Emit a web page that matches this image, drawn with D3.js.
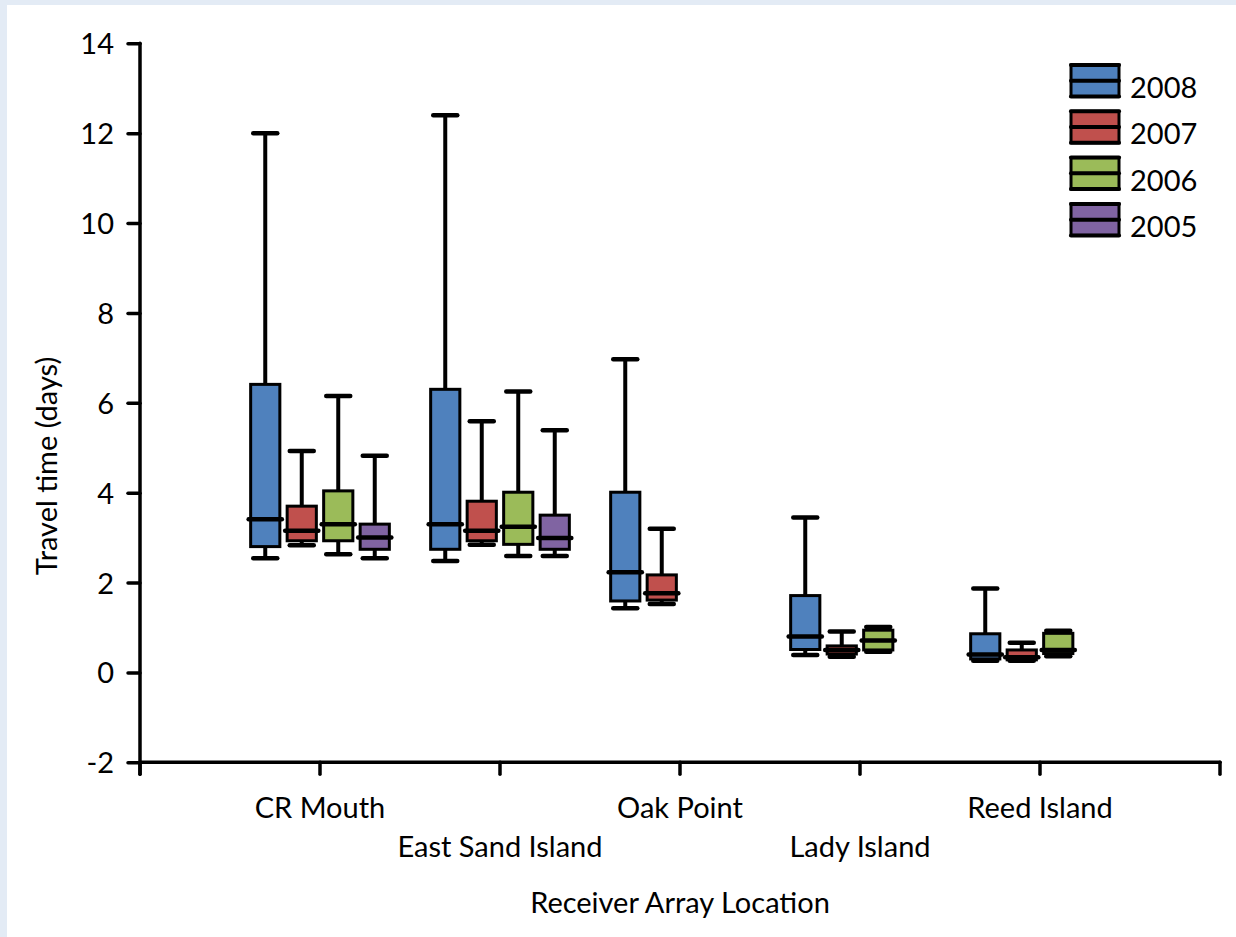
<!DOCTYPE html>
<html>
<head>
<meta charset="utf-8">
<script src="https://cdn.jsdelivr.net/npm/d3@7"></script>
<style>
  html, body { margin: 0; padding: 0; background: #e3ebf5; }
  text { font-family: Lato, "Open Sans", sans-serif; fill: #000; }
</style>
</head>
<body>
<div id="chart"></div>
<script>
// Categories and series
var locations = ["CR Mouth", "East Sand Island", "Oak Point", "Lady Island", "Reed Island"];
var years = ["2008", "2007", "2006", "2005"];
var colors = ["#4f81bd", "#c0504d", "#9bbb59", "#8064a2"];
var yTicks = [-2, 0, 2, 4, 6, 8, 10, 12, 14];

// [location, year, min, q1, median, q3, max]
var boxes = [
  ["CR Mouth", "2008", 2.54, 2.80, 3.41, 6.41, 12.0],
  ["CR Mouth", "2007", 2.83, 2.93, 3.15, 3.70, 4.93],
  ["CR Mouth", "2006", 2.63, 2.93, 3.30, 4.04, 6.15],
  ["CR Mouth", "2005", 2.54, 2.74, 3.00, 3.30, 4.82],
  ["East Sand Island", "2008", 2.48, 2.74, 3.30, 6.30, 12.40],
  ["East Sand Island", "2007", 2.84, 2.93, 3.15, 3.81, 5.59],
  ["East Sand Island", "2006", 2.59, 2.85, 3.24, 4.01, 6.25],
  ["East Sand Island", "2005", 2.59, 2.74, 2.99, 3.50, 5.39],
  ["Oak Point", "2008", 1.43, 1.59, 2.23, 4.01, 6.97],
  ["Oak Point", "2007", 1.52, 1.61, 1.76, 2.17, 3.20],
  ["Lady Island", "2008", 0.39, 0.51, 0.80, 1.71, 3.45],
  ["Lady Island", "2007", 0.35, 0.41, 0.50, 0.59, 0.91],
  ["Lady Island", "2006", 0.46, 0.50, 0.71, 0.94, 1.01],
  ["Reed Island", "2008", 0.26, 0.30, 0.40, 0.86, 1.87],
  ["Reed Island", "2007", 0.26, 0.28, 0.34, 0.50, 0.66],
  ["Reed Island", "2006", 0.36, 0.42, 0.50, 0.87, 0.93]
];

function redraw() {
  var canvas_w = 1236;
  var canvas_h = 937;
  var fontSize = "29px";

  var svg = d3.select("#chart").append("svg")
    .attr("width", canvas_w)
    .attr("height", canvas_h)
    .style("display", "block");

  // White panel on light blue page
  svg.append("rect")
    .attr("x", 7).attr("y", 5)
    .attr("width", canvas_w - 7).attr("height", canvas_h - 5)
    .style("fill", "#ffffff");

  var y = d3.scaleLinear().domain([-2, 14]).range([762.3, 43.3]);
  var x = d3.scalePoint().domain(locations).range([320, 1040]);
  var step = x.step();
  var xLeft = x(locations[0]) - step;
  var xRight = x(locations[locations.length - 1]) + step;
  var inner = d3.scaleBand().domain(years).range([-69.35, 69.35]).paddingInner(0.2);
  var colour = d3.scaleOrdinal().domain(years).range(colors);

  // Y axis
  var yAxis = svg.append("g")
    .attr("transform", "translate(140,0)")
    .call(d3.axisLeft(y).tickValues(yTicks).tickSize(12).tickPadding(14).tickFormat(d3.format("d")));
  yAxis.select(".domain").remove();
  yAxis.selectAll(".tick line").style("stroke", "#000").style("stroke-width", 3.5).attr("stroke-linecap", "round");
  yAxis.selectAll(".tick text").style("font-size", fontSize).attr("dy", "0.36em")
    .text(function(d) { return d < 0 ? "-" + Math.abs(d) : d; });
  svg.append("line")
    .attr("x1", 140).attr("x2", 140)
    .attr("y1", y(14)).attr("y2", y(-2) + 12)
    .style("stroke", "#000").style("stroke-width", 3.5).attr("stroke-linecap", "round");

  // X axis
  var xAxisY = y(-2);
  svg.append("line")
    .attr("x1", xLeft).attr("x2", xRight)
    .attr("y1", xAxisY).attr("y2", xAxisY)
    .style("stroke", "#000").style("stroke-width", 3.5).attr("stroke-linecap", "round");
  var tickXs = d3.range(0, locations.length + 2).map(function(k) { return xLeft + k * step; });
  svg.selectAll(".xtick").data(tickXs).enter().append("line")
    .attr("class", "xtick")
    .attr("x1", function(d) { return d; }).attr("x2", function(d) { return d; })
    .attr("y1", xAxisY).attr("y2", xAxisY + 12)
    .style("stroke", "#000").style("stroke-width", 3.5).attr("stroke-linecap", "round");
  svg.selectAll(".xlabel").data(locations).enter().append("text")
    .attr("class", "xlabel")
    .attr("x", function(d) { return x(d); })
    .attr("y", function(d, i) { return i % 2 === 0 ? 818 : 857; })
    .attr("text-anchor", "middle")
    .style("font-size", fontSize)
    .text(function(d) { return d; });

  // Axis titles
  svg.append("text")
    .attr("x", 680).attr("y", 913)
    .attr("text-anchor", "middle")
    .style("font-size", fontSize)
    .text("Receiver Array Location");
  svg.append("text")
    .attr("transform", "translate(57,466) rotate(-90)")
    .attr("text-anchor", "middle")
    .style("font-size", fontSize)
    .text("Travel time (days)");

  // Boxes
  var bw = inner.bandwidth();
  var capW = 24;
  var g = svg.selectAll(".box").data(boxes).enter().append("g")
    .attr("class", "box")
    .attr("transform", function(d) { return "translate(" + (x(d[0]) + inner(d[1]) + bw / 2) + ",0)"; });

  // whiskers
  g.append("line")
    .attr("x1", 0).attr("x2", 0)
    .attr("y1", function(d) { return y(d[6]); })
    .attr("y2", function(d) { return y(d[5]); })
    .style("stroke", "#000").style("stroke-width", 4);
  g.append("line")
    .attr("x1", 0).attr("x2", 0)
    .attr("y1", function(d) { return y(d[3]); })
    .attr("y2", function(d) { return y(d[2]); })
    .style("stroke", "#000").style("stroke-width", 4);
  // caps
  [2, 6].forEach(function(k) {
    g.append("line")
      .attr("x1", -capW / 2).attr("x2", capW / 2)
      .attr("y1", function(d) { return y(d[k]); })
      .attr("y2", function(d) { return y(d[k]); })
      .style("stroke", "#000").style("stroke-width", 4.5).attr("stroke-linecap", "round");
  });
  // box
  g.append("rect")
    .attr("x", -bw / 2)
    .attr("width", bw)
    .attr("y", function(d) { return y(d[5]); })
    .attr("height", function(d) { return y(d[3]) - y(d[5]); })
    .style("fill", function(d) { return colour(d[1]); })
    .style("stroke", "#000").style("stroke-width", 3);
  // median
  g.append("line")
    .attr("x1", -bw / 2 - 2).attr("x2", bw / 2 + 2)
    .attr("y1", function(d) { return y(d[4]); })
    .attr("y2", function(d) { return y(d[4]); })
    .style("stroke", "#000").style("stroke-width", 4.5).attr("stroke-linecap", "round");

  // Legend
  var legend = svg.selectAll(".legend").data(years).enter().append("g")
    .attr("class", "legend")
    .attr("transform", function(d, i) { return "translate(1071," + (65 + i * 46.3) + ")"; });
  legend.append("rect")
    .attr("width", 48).attr("height", 31.5)
    .style("fill", function(d) { return colour(d); })
    .style("stroke", "#000").style("stroke-width", 3);
  [0, 15.75, 31.5].forEach(function(ly) {
    legend.append("line")
      .attr("x1", 0).attr("x2", 48)
      .attr("y1", ly).attr("y2", ly)
      .style("stroke", "#000").style("stroke-width", 4).attr("stroke-linecap", "round");
  });
  legend.append("text")
    .attr("x", 59).attr("y", 33)
    .style("font-size", fontSize)
    .text(function(d) { return d; });
}

redraw();
</script>
</body>
</html>
